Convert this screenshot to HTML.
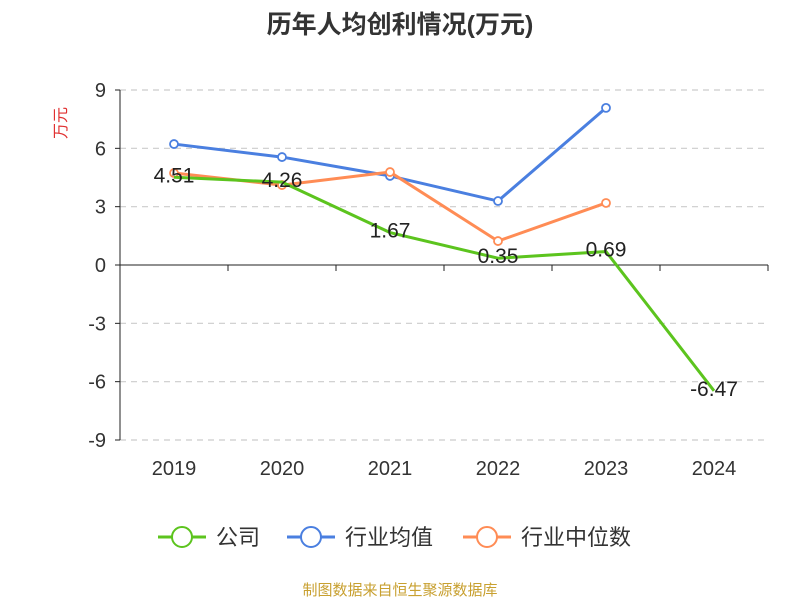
<!DOCTYPE html>
<html><head><meta charset="utf-8"><style>
body{margin:0;background:#fff;font-family:"Liberation Sans","Noto Sans CJK SC",sans-serif;}
</style></head><body>
<svg id="c" width="800" height="600" xmlns="http://www.w3.org/2000/svg">
<text x="400" y="33" text-anchor="middle" font-size="25" font-weight="bold" fill="#333" font-family="Liberation Sans, Noto Sans CJK SC, sans-serif">历年人均创利情况(万元)</text>
<text x="66" y="123" text-anchor="middle" font-size="16" fill="#e03030" transform="rotate(-90 66 123)" font-family="Liberation Sans, Noto Sans CJK SC, sans-serif">万元</text>
<g id="grid"></g><g id="series"></g><g id="legend"></g>
<text x="400" y="595" text-anchor="middle" font-size="15" fill="#c8a030" font-family="Liberation Sans, Noto Sans CJK SC, sans-serif">制图数据来自恒生聚源数据库</text>
</svg>
<script>
const categories=["2019","2020","2021","2022","2023","2024"];
const yTicks=[9,6,3,0,-3,-6,-9];
const company=[4.51,4.26,1.67,0.35,0.69,-6.47];
const industryAvg=[6.22,5.55,4.58,3.29,8.08,null];
const industryMedian=[4.73,4.11,4.78,1.23,3.19,null];
const companyLabels=["4.51","4.26","1.67","0.35","0.69","-6.47"];
const NS="http://www.w3.org/2000/svg";
const L=120,R=768,T=90,B=440,yMin=-9,yMax=9;
const bw=(R-L)/categories.length;
const x=i=>L+bw*(i+0.5);
const y=v=>B-(v-yMin)/(yMax-yMin)*(B-T);
function mk(tag,attrs,parent){const e=document.createElementNS(NS,tag);for(const k in attrs)e.setAttribute(k,attrs[k]);parent.appendChild(e);return e;}
const grid=document.getElementById('grid');
yTicks.forEach(t=>{
  if(t!==0){const g=mk('line',{x1:L,x2:R,y1:y(t),y2:y(t),stroke:'#ccc','stroke-dasharray':'6,5','stroke-width':1.2},grid);
  
  }
  const tk=mk('line',{x1:L-5,x2:L,y1:y(t),y2:y(t),stroke:'#222'},grid);
  
  
  const tx=mk('text',{x:L-14,y:y(t)+7,'text-anchor':'end','font-size':20,fill:'#333'},grid);tx.textContent=t;
  
  
});
const ya=mk('line',{x1:L,x2:L,y1:T,y2:B,stroke:'#222'},grid);


const xa=mk('line',{x1:L,x2:R,y1:y(0),y2:y(0),stroke:'#222'},grid);


for(let i=0;i<=categories.length;i++){const t=mk('line',{x1:L+bw*i,x2:L+bw*i,y1:y(0),y2:y(0)+6,stroke:'#222'},grid);

}
categories.forEach((c,i)=>{const t=mk('text',{x:x(i),y:475,'text-anchor':'middle','font-size':20,fill:'#333'},grid);t.textContent=c;

});
const ser=document.getElementById('series');
function line(data,color,name,markers){
  const g=mk('g',{},ser);
  
  
  let d='';data.forEach((v,i)=>{if(v!==null)d+=(d?'L':'M')+x(i)+','+y(v);});
  mk('path',{d:d,fill:'none',stroke:color,'stroke-width':3},g);
  if(markers)data.forEach((v,i)=>{if(v!==null){const c=mk('circle',{cx:x(i),cy:y(v),r:4,fill:'#fff',stroke:color,'stroke-width':1.8},g);
  
  }});
}
line(industryAvg,'#4a7fe0','industry-average-line',true);
line(industryMedian,'#ff8c55','industry-median-line',true);
line(company,'#5cc41e','company-line',false);
company.forEach((v,i)=>{const t=mk('text',{x:x(i),y:y(v)+5,'text-anchor':'middle','font-size':21,fill:'#222'},ser);t.textContent=companyLabels[i];

});
const lg=document.getElementById('legend');
[['公司','#5cc41e',158],['行业均值','#4a7fe0',287],['行业中位数','#ff8c55',463]].forEach(([n,c,lx])=>{
  const g=mk('g',{},lg);
  
  
  mk('line',{x1:lx,x2:lx+48,y1:537,y2:537,stroke:c,'stroke-width':3},g);
  mk('circle',{cx:lx+24,cy:537,r:10,fill:'#fff',stroke:c,'stroke-width':2},g);
  const t=mk('text',{x:lx+58,y:545,'font-size':22,fill:'#333'},g);t.textContent=n;
});
</script>
</body></html>
